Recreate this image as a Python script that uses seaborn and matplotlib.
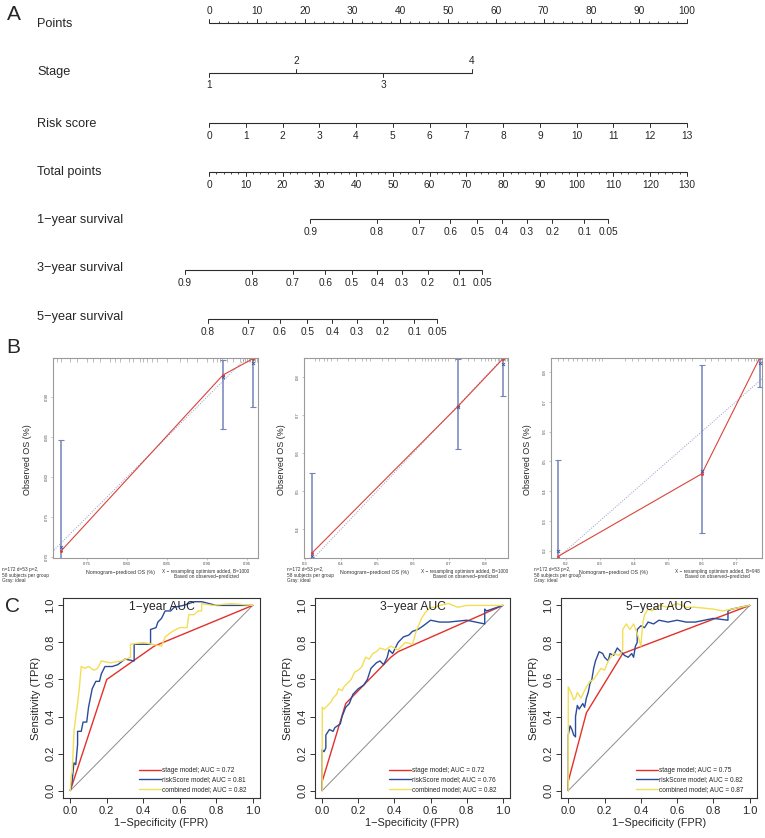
import matplotlib
matplotlib.use("Agg")
import matplotlib.pyplot as plt
import matplotlib.transforms as mtransforms
import pandas as pd
import seaborn as sns

# ---------------- A: nomogram ----------------
points_ticks = list(range(0, 101, 10))
stage_levels = ["1", "2", "3", "4"]
stage_points = [0, 18.3, 36.5, 55]
stage_sides = ["down", "up", "down", "up"]
risk_ticks = list(range(0, 14))
risk_max = 13
total_ticks = list(range(0, 131, 10))
total_max = 130
surv1_prob = ["0.9", "0.8", "0.7", "0.6", "0.5", "0.4", "0.3", "0.2", "0.1", "0.05"]
surv1_total = [27.6, 45.7, 57.1, 65.6, 73.0, 79.7, 86.4, 93.4, 102.1, 108.5]
surv3_prob = ["0.9", "0.8", "0.7", "0.6", "0.5", "0.4", "0.3", "0.2", "0.1", "0.05"]
surv3_total = [-6.6, 11.6, 22.8, 31.6, 38.9, 45.8, 52.5, 59.5, 68.1, 74.3]
surv5_prob = ["0.8", "0.7", "0.6", "0.5", "0.4", "0.3", "0.2", "0.1", "0.05"]
surv5_total = [-0.4, 10.7, 19.2, 26.7, 33.5, 40.2, 47.2, 55.8, 62.0]

# ---------------- B: calibration ----------------
cal_pred = [[0.7175, 0.920, 0.9575], [0.319, 0.725, 0.850], [0.176, 0.600, 0.770]]
cal_obs = [[0.7075, 0.9275, 0.948], [0.337, 0.723, 0.848], [0.180, 0.458, 0.847]]
cal_lo = [[0.62, 0.860, 0.8875], [0.20, 0.610, 0.750], [0.05, 0.260, 0.750]]
cal_hi = [[0.846, 0.946, 0.950], [0.547, 0.848, 0.850], [0.503, 0.825, 0.850]]
cal_corr = [[0.712, 0.9254, 0.9425], [0.330, 0.720, 0.835], [0.200, 0.467, 0.830]]
cal_B = [1000, 1000, 948]
cal_xticks = [[0.75, 0.80, 0.85, 0.90, 0.95], [0.3, 0.4, 0.5, 0.6, 0.7, 0.8],
              [0.2, 0.3, 0.4, 0.5, 0.6, 0.7]]
cal_yticks = [[0.70, 0.75, 0.80, 0.85, 0.90], [0.4, 0.5, 0.6, 0.7, 0.8],
              [0.2, 0.3, 0.4, 0.5, 0.6, 0.7, 0.8]]
cal_fmt = ["%.2f", "%.1f", "%.1f"]
rug1 = [0.712, 0.718, 0.729, 0.737, 0.750, 0.758, 0.766, 0.779, 0.785, 0.791, 0.802, 0.808,
        0.816, 0.820, 0.825, 0.831, 0.837, 0.850, 0.866, 0.875, 0.887, 0.900, 0.908, 0.912,
        0.916, 0.919, 0.925, 0.933, 0.941, 0.945, 0.948, 0.950, 0.952, 0.954, 0.956, 0.958,
        0.960, 0.962]
rug2 = [0.328, 0.340, 0.352, 0.360, 0.372, 0.388, 0.420, 0.440, 0.457, 0.470, 0.480, 0.513,
        0.530, 0.550, 0.587, 0.605, 0.624, 0.633, 0.642, 0.650, 0.661, 0.670, 0.680, 0.690,
        0.698, 0.716, 0.753, 0.770, 0.790, 0.800, 0.809, 0.818, 0.828, 0.835, 0.840, 0.846,
        0.850, 0.855, 0.860]
rug3 = [0.178, 0.192, 0.207, 0.222, 0.232, 0.246, 0.262, 0.276, 0.286, 0.296, 0.305, 0.374,
        0.394, 0.413, 0.432, 0.452, 0.470, 0.491, 0.505, 0.515, 0.530, 0.540, 0.550, 0.570,
        0.609, 0.628, 0.648, 0.668, 0.687, 0.707, 0.727, 0.737, 0.746, 0.752, 0.758, 0.766,
        0.770]

# ---------------- C: ROC ----------------
roc_titles = ["1−year AUC", "3−year AUC", "5−year AUC"]
auc_stage = [0.72, 0.72, 0.75]
auc_risk = [0.81, 0.76, 0.82]
auc_comb = [0.82, 0.82, 0.87]
roc1_stage = [(0, 0), (0.20, 0.60), (0.46, 0.78), (1, 1)]
roc1_risk = [(0, 0), (0.01, 0.05), (0.02, 0.15), (0.03, 0.14), (0.04, 0.25), (0.04, 0.32),
             (0.06, 0.32), (0.07, 0.37), (0.09, 0.37), (0.10, 0.45), (0.11, 0.50), (0.12, 0.55),
             (0.14, 0.59), (0.16, 0.59), (0.17, 0.63), (0.19, 0.67), (0.23, 0.67), (0.26, 0.68),
             (0.30, 0.71), (0.35, 0.70), (0.35, 0.79), (0.44, 0.79), (0.44, 0.87), (0.47, 0.88),
             (0.48, 0.91), (0.50, 0.93), (0.52, 0.97), (0.55, 0.97), (0.57, 0.99), (0.62, 1.00),
             (0.68, 1.02), (0.72, 1.02), (0.80, 1.00), (1, 1)]
roc1_comb = [(0, 0), (0.005, 0.08), (0.01, 0.10), (0.015, 0.20), (0.02, 0.32), (0.03, 0.40),
             (0.04, 0.47), (0.05, 0.56), (0.06, 0.67), (0.08, 0.66), (0.10, 0.67), (0.13, 0.65),
             (0.15, 0.66), (0.17, 0.70), (0.22, 0.69), (0.28, 0.70), (0.33, 0.72), (0.33, 0.79),
             (0.40, 0.80), (0.45, 0.79), (0.50, 0.78), (0.52, 0.83), (0.56, 0.86), (0.60, 0.88),
             (0.64, 0.88), (0.65, 0.95), (0.68, 0.95), (0.70, 0.97), (0.72, 0.97), (0.72, 1.01),
             (0.78, 1.00), (0.88, 1.01), (1, 1)]
roc2_stage = [(0, 0), (0, 0.05), (0.13, 0.47), (0.38, 0.72), (0.42, 0.75), (1, 1)]
roc2_risk = [(0, 0), (0, 0.22), (0.01, 0.21), (0.02, 0.23), (0.02, 0.30), (0.04, 0.33),
             (0.06, 0.32), (0.07, 0.34), (0.10, 0.36), (0.11, 0.40), (0.13, 0.45), (0.15, 0.47),
             (0.17, 0.52), (0.20, 0.55), (0.23, 0.57), (0.25, 0.60), (0.27, 0.66), (0.30, 0.69),
             (0.32, 0.70), (0.34, 0.68), (0.36, 0.72), (0.37, 0.76), (0.39, 0.74), (0.41, 0.78),
             (0.42, 0.80), (0.45, 0.83), (0.48, 0.84), (0.50, 0.86), (0.53, 0.87), (0.56, 0.89),
             (0.60, 0.92), (0.65, 0.91), (0.70, 0.91), (0.80, 0.92), (0.85, 0.91), (0.90, 0.90),
             (0.90, 0.98), (0.91, 0.97), (1, 1)]
roc2_comb = [(0, 0), (0, 0.45), (0.01, 0.44), (0.03, 0.46), (0.05, 0.48), (0.06, 0.50),
             (0.08, 0.52), (0.09, 0.55), (0.11, 0.54), (0.12, 0.56), (0.14, 0.58), (0.16, 0.60),
             (0.18, 0.64), (0.20, 0.65), (0.22, 0.67), (0.24, 0.72), (0.26, 0.71), (0.28, 0.74),
             (0.30, 0.75), (0.32, 0.77), (0.35, 0.76), (0.38, 0.78), (0.40, 0.77), (0.42, 0.76),
             (0.44, 0.78), (0.46, 0.80), (0.50, 0.79), (0.52, 0.86), (0.55, 0.93), (0.57, 0.96),
             (0.60, 0.99), (0.63, 0.99), (0.65, 1.00), (0.70, 1.01), (0.75, 0.99), (0.80, 1.00),
             (0.90, 1.00), (1, 1)]
roc3_stage = [(0, 0), (0, 0.05), (0.10, 0.42), (0.30, 0.74), (1, 1)]
roc3_risk = [(0, 0), (0, 0.30), (0.01, 0.35), (0.02, 0.33), (0.03, 0.30), (0.04, 0.29),
             (0.04, 0.40), (0.05, 0.46), (0.06, 0.44), (0.08, 0.47), (0.09, 0.45), (0.10, 0.50),
             (0.11, 0.53), (0.12, 0.58), (0.13, 0.60), (0.14, 0.66), (0.15, 0.70), (0.17, 0.75),
             (0.19, 0.74), (0.20, 0.72), (0.22, 0.70), (0.23, 0.74), (0.25, 0.73), (0.27, 0.77),
             (0.29, 0.75), (0.31, 0.73), (0.33, 0.72), (0.35, 0.74), (0.36, 0.72), (0.37, 0.78),
             (0.38, 0.80), (0.38, 0.87), (0.40, 0.89), (0.42, 0.88), (0.44, 0.91), (0.47, 0.90),
             (0.50, 0.92), (0.55, 0.91), (0.60, 0.92), (0.65, 0.91), (0.70, 0.91), (0.80, 0.93),
             (0.88, 0.92), (0.88, 0.97), (0.90, 0.98), (1, 1)]
roc3_comb = [(0, 0), (0, 0.38), (0, 0.56), (0.02, 0.52), (0.03, 0.49), (0.04, 0.50),
             (0.05, 0.53), (0.07, 0.50), (0.08, 0.52), (0.10, 0.56), (0.12, 0.59), (0.14, 0.60),
             (0.16, 0.63), (0.18, 0.66), (0.20, 0.65), (0.22, 0.70), (0.25, 0.74), (0.28, 0.73),
             (0.30, 0.76), (0.30, 0.87), (0.32, 0.90), (0.34, 0.87), (0.36, 0.90), (0.38, 0.85),
             (0.40, 0.78), (0.41, 0.90), (0.42, 0.95), (0.44, 0.98), (0.46, 0.97), (0.50, 1.00),
             (0.55, 0.99), (0.60, 1.01), (0.65, 0.99), (0.70, 0.99), (0.80, 0.98), (0.85, 0.97),
             (0.90, 0.98), (1, 1)]

RED = "#E3302B"
BLUE = "#2B4C9B"
YELLOW = "#F3DE55"
CAL_RED = "#D9443A"
CAL_BLUE = "#7483BA"

sns.set_theme(style="white")
plt.rcParams["font.family"] = ["Liberation Sans", "DejaVu Sans"]

W, H = 765, 838
fig = plt.figure(figsize=(W / 100, H / 100), dpi=100)


def px_axes(x0, y0, x1, y1):
    return fig.add_axes([x0 / W, 1 - y1 / H, (x1 - x0) / W, (y1 - y0) / H])


def ftext(x, y, s, **kw):
    fig.text(x / W, 1 - y / H, s, **kw)


# ---------- A ----------
ax = px_axes(0, 0, W, 345)
ax.set_xlim(-209 / 4.78, (W - 209) / 4.78)
ax.set_ylim(345, 0)
ax.axis("off")
lab_tr = mtransforms.blended_transform_factory(ax.transAxes, ax.transData)
LINE = "#2b2b2b"
TICK_FS = 7.3


def scale_row(y, pos, labels, sides, minor=None):
    ax.plot([min(pos), max(pos)], [y, y], color=LINE, lw=0.8, solid_capstyle="butt")
    if minor is not None:
        ax.vlines(minor, y, y + (-1.8 if sides[0] == "up" else 1.8), color=LINE, lw=0.6)
    for p, l, s in zip(pos, labels, sides):
        d = -1 if s == "up" else 1
        ax.plot([p, p], [y, y + d * 3.8], color=LINE, lw=0.7)
        ax.text(p, y + d * 12.5, l, ha="center", va="center", fontsize=TICK_FS)


def row_label(y, s):
    ax.text(37 / W, y, s, transform=lab_tr, ha="left", va="center", fontsize=9.2)


row_label(24, "Points")
scale_row(23, points_ticks, [str(v) for v in points_ticks], ["up"] * 11,
          minor=[v for v in range(0, 101, 2) if v % 10])

row_label(72, "Stage")
scale_row(73, stage_points, stage_levels, stage_sides)

row_label(124, "Risk score")
scale_row(123, [v * 100 / risk_max for v in risk_ticks], [str(v) for v in risk_ticks],
          ["down"] * len(risk_ticks))

row_label(172, "Total points")
scale_row(172, [v * 100 / total_max for v in total_ticks], [str(v) for v in total_ticks],
          ["down"] * len(total_ticks),
          minor=[v * 100 / total_max for v in range(0, 131, 2) if v % 10])

for yl, yline, name, tot, prob in [(220, 219, "1−year survival", surv1_total, surv1_prob),
                                   (268, 270, "3−year survival", surv3_total, surv3_prob),
                                   (317, 319, "5−year survival", surv5_total, surv5_prob)]:
    row_label(yl, name)
    scale_row(yline, [v * 100 / total_max for v in tot], prob, ["down"] * len(prob))

ftext(14, 15, "A", fontsize=15, ha="center", va="center")

# ---------- B ----------
cal_boxes = [(53, 258), (304, 508), (551, 762)]
cal_xlim = [(0.7075, 0.9638), (0.297, 0.864), (0.156, 0.777)]
cal_ylim = [(0.6988, 0.9488), (0.324, 0.850), (0.175, 0.847)]
cal_rugs = [rug1, rug2, rug3]
cal_note_x = [2, 287, 534]
cal_lab_x = [120, 374, 613]
cal_res_x = [206, 465, 717]
cal_ylab_x = [27, 282, 528]

for i in range(3):
    x0, x1 = cal_boxes[i]
    a = px_axes(x0, 358, x1, 558)
    a.set_xlim(*cal_xlim[i])
    a.set_ylim(*cal_ylim[i])
    for sp in a.spines.values():
        sp.set_color("#9a9a9a")
        sp.set_linewidth(0.8)
    a.plot([0, 1], [0, 1], ls=(0, (1, 1.5)), color="#8f9cc8", lw=0.7)
    top = cal_ylim[i][1]
    hgt = (cal_ylim[i][1] - cal_ylim[i][0]) * 3.5 / 200
    a.vlines(cal_rugs[i], top - hgt, top, color="#8a8a8a", lw=0.4)
    obs = cal_obs[i]
    a.errorbar(cal_pred[i], obs,
               yerr=[[o - l for o, l in zip(obs, cal_lo[i])], [h - o for o, h in zip(obs, cal_hi[i])]],
               fmt="none", ecolor=CAL_BLUE, elinewidth=1.1, capsize=2, capthick=0.8)
    df = pd.DataFrame({"pred": cal_pred[i], "obs": obs})
    sns.lineplot(data=df, x="pred", y="obs", ax=a, color=CAL_RED, lw=0.8, sort=False,
                 estimator=None, marker="o", markersize=2.2, markeredgewidth=0)
    a.scatter(cal_pred[i], cal_corr[i], marker="x", s=5, color="#3b55a8", lw=0.6, zorder=5)
    a.set_xticks(cal_xticks[i])
    a.set_yticks(cal_yticks[i])
    a.set_xticklabels([cal_fmt[i] % v for v in cal_xticks[i]])
    a.set_yticklabels([cal_fmt[i] % v for v in cal_yticks[i]], rotation=90, va="center")
    a.tick_params(labelsize=3, length=1.5, width=0.4, color="#9a9a9a", pad=1.2,
                  bottom=True, left=True, labelcolor="#444")
    a.set_xlabel("")
    a.set_ylabel("")
    ftext(cal_ylab_x[i], 460, "Observed OS (%)", rotation=90, fontsize=6.4,
          ha="center", va="center")
    ftext(cal_note_x[i], 575, "n=172 d=53 p=2,\n58 subjects per group\nGray: ideal",
          fontsize=3.4, ha="left", va="center", linespacing=1.05, color="#333")
    ftext(cal_lab_x[i], 572.5, "Nomogram−prediced OS (%)", fontsize=3.8, ha="center",
          va="center", color="#333")
    ftext(cal_res_x[i], 574, "X − resampling optimism added, B=%d\nBased on observed−predicted"
          % cal_B[i], fontsize=3.4, ha="center", va="center", linespacing=1.1, color="#333")

ftext(13, 347, "B", fontsize=15, ha="center", va="center")

# ---------- C ----------
roc_boxes = [(63, 260), (315, 510), (561, 757)]
roc_stage = [roc1_stage, roc2_stage, roc3_stage]
roc_risk = [roc1_risk, roc2_risk, roc3_risk]
roc_comb = [roc1_comb, roc2_comb, roc3_comb]

for i in range(3):
    x0, x1 = roc_boxes[i]
    a = px_axes(x0, 598, x1, 798)
    a.set_xlim(-0.04, 1.04)
    a.set_ylim(-0.04, 1.04)
    for sp in a.spines.values():
        sp.set_color("#333333")
        sp.set_linewidth(0.8)
    a.plot([0, 1], [0, 1], color="#8c8c8c", lw=0.7)
    curves = [(roc_stage[i], RED, "stage model; AUC = %.2f" % auc_stage[i]),
              (roc_risk[i], BLUE, "riskScore model; AUC = %.2f" % auc_risk[i]),
              (roc_comb[i], YELLOW, "combined model; AUC = %.2f" % auc_comb[i])]
    for pts, col, lab in curves:
        df = pd.DataFrame(pts, columns=["fpr", "tpr"])
        sns.lineplot(data=df, x="fpr", y="tpr", ax=a, color=col, lw=1.0, sort=False,
                     estimator=None, label=lab)
    a.text(0.5, 0.99, roc_titles[i], ha="center", va="center", fontsize=8.7)
    leg = a.legend(loc="lower right", bbox_to_anchor=(0.965, -0.012),
                   bbox_transform=a.transData, frameon=False, fontsize=4.7,
                   handlelength=3.3, handletextpad=0.15, labelspacing=0.35,
                   borderpad=0, borderaxespad=0)
    for ln in leg.get_lines():
        ln.set_linewidth(1.0)
    ticks = [0.0, 0.2, 0.4, 0.6, 0.8, 1.0]
    a.set_xticks(ticks)
    a.set_yticks(ticks)
    a.set_xticklabels(["%.1f" % t for t in ticks])
    a.set_yticklabels(["%.1f" % t for t in ticks], rotation=90, va="center")
    a.tick_params(labelsize=8, length=3.5, width=0.7, color="#333", pad=2,
                  bottom=True, left=True)
    a.set_xlabel("1−Specificity (FPR)", fontsize=7.8, labelpad=2)
    a.set_ylabel("Sensitivity (TPR)", fontsize=8, labelpad=3)

ftext(13, 606, "C", fontsize=15, ha="center", va="center")

fig.savefig("out.png", dpi=100)
